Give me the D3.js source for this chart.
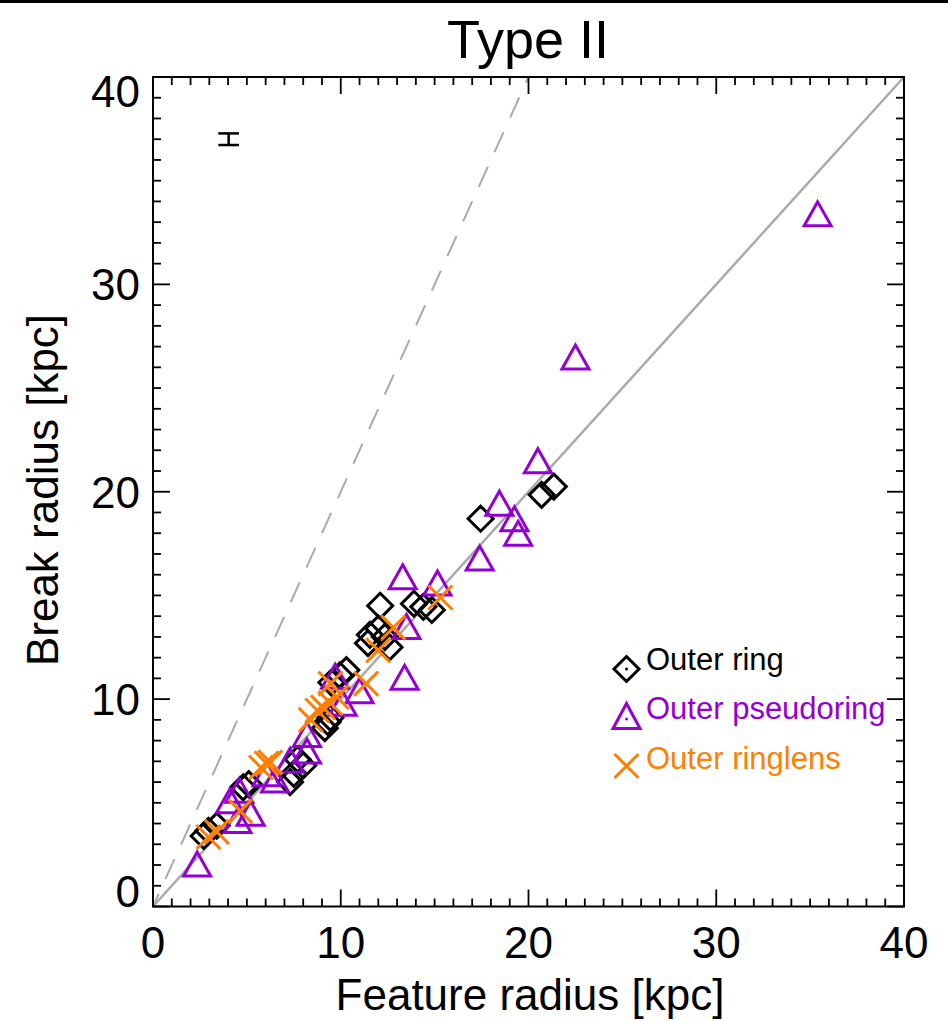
<!DOCTYPE html>
<html>
<head>
<meta charset="utf-8">
<script src="https://cdn.jsdelivr.net/npm/d3@7"></script>
<style>
  body { margin: 0; background: #fff; }
  svg { display: block; font-family: "Liberation Sans", Arial, sans-serif; }
</style>
</head>
<body>
<div id="chart"></div>
<script>
// Outer ring: [feature radius, break radius] (kpc)
const outerRing = [
  [2.7, 3.4], [2.95, 3.65], [3.4, 3.9], [4.8, 5.75], [5.1, 5.9], [7.3, 6.0],
  [7.5, 6.4], [7.7, 7.1], [8.0, 6.8], [9.15, 8.6], [9.3, 8.9], [9.45, 9.1],
  [9.5, 10.8], [9.95, 11.15], [10.3, 11.4], [11.45, 12.7], [11.55, 13.1],
  [12.0, 13.4], [12.35, 13.0], [12.6, 12.5], [12.1, 14.5], [13.9, 14.6],
  [14.4, 14.45], [14.85, 14.3], [17.45, 18.7], [20.7, 19.85], [21.35, 20.25]
]
// Outer pseudoring
const outerPseudoring = [
  [2.35, 2.05], [4.1, 5.1], [4.5, 4.15], [4.6, 5.6], [5.2, 4.5], [6.05, 6.4],
  [6.5, 6.1], [7.3, 7.05], [8.2, 8.3], [8.2, 7.5], [9.7, 11.1], [10.1, 9.8],
  [11.0, 10.4], [13.3, 15.9], [13.4, 11.05], [13.5, 13.5], [15.15, 15.6],
  [17.4, 16.8], [18.45, 19.45], [19.25, 18.7], [19.45, 18.0], [20.5, 21.5],
  [22.5, 26.5], [35.4, 33.4]
]
// Outer ringlens
const outerRinglens = [
  [2.95, 3.35], [3.4, 3.6], [4.65, 4.6], [5.75, 6.7], [6.05, 6.9], [6.25, 6.95],
  [8.4, 9.0], [8.75, 9.45], [9.05, 9.6], [9.45, 9.8], [9.8, 10.1], [9.45, 10.75],
  [11.35, 10.75], [12.0, 12.35], [12.8, 13.45], [15.3, 14.9]
]
const majorTicks = [0, 10, 20, 30, 40]
const minorTicks = d3.range(0, 41)
const errBar = { x: 4.03, y: 37.0, dy: 0.28, cap: 0.55 }
const legendLabels = ['Outer ring', 'Outer pseudoring', 'Outer ringlens']

const W = 948, H = 1021
const purple = '#9400d3', orange = '#ff7f00', grey = '#aaaaaa'

const svg = d3.select('#chart').append('svg')
  .attr('width', W).attr('height', H)

svg.append('rect').attr('x', 0).attr('y', 0).attr('width', W).attr('height', 3).attr('fill', '#000')

const x = d3.scaleLinear().domain([0, 40]).range([153, 904])
const y = d3.scaleLinear().domain([0, 40]).range([906.5, 77])

// reference lines
svg.append('line')
  .attr('x1', x(0)).attr('y1', y(0)).attr('x2', x(40)).attr('y2', y(40))
  .attr('stroke', grey).attr('stroke-width', 2.5)
svg.append('line')
  .attr('x1', x(0)).attr('y1', y(0)).attr('x2', x(20)).attr('y2', y(40))
  .attr('stroke', grey).attr('stroke-width', 2)
  .attr('stroke-dasharray', '22,16').attr('stroke-dashoffset', -30)

// error bar
const eb = svg.append('g').attr('stroke', '#000').attr('stroke-width', 2.5)
eb.append('line').attr('x1', x(errBar.x)).attr('x2', x(errBar.x))
  .attr('y1', y(errBar.y - errBar.dy)).attr('y2', y(errBar.y + errBar.dy))
;[errBar.y - errBar.dy, errBar.y + errBar.dy].forEach(v => {
  eb.append('line').attr('x1', x(errBar.x - errBar.cap)).attr('x2', x(errBar.x + errBar.cap))
    .attr('y1', y(v)).attr('y2', y(v))
})

// marker shapes
const diamond = (r) => `M0,${-r}L${r},0L0,${r}L${-r},0Z`
const triangle = (w, h) => `M0,${-h / 2}L${w / 2},${h / 2}L${-w / 2},${h / 2}Z`
const cross = (r) => `M${-r},${-r}L${r},${r}M${-r},${r}L${r},${-r}`

svg.append('g').selectAll('path').data(outerRing).enter().append('path')
  .attr('transform', d => `translate(${x(d[0])},${y(d[1])})`)
  .attr('d', diamond(12.5)).attr('fill', 'none')
  .attr('stroke', '#000').attr('stroke-width', 3)

svg.append('g').selectAll('path').data(outerPseudoring).enter().append('path')
  .attr('transform', d => `translate(${x(d[0])},${y(d[1])})`)
  .attr('d', triangle(27, 24)).attr('fill', 'none')
  .attr('stroke', purple).attr('stroke-width', 3).attr('stroke-linejoin', 'miter')

svg.append('g').selectAll('path').data(outerRinglens).enter().append('path')
  .attr('transform', d => `translate(${x(d[0])},${y(d[1])})`)
  .attr('d', cross(12)).attr('fill', 'none')
  .attr('stroke', orange).attr('stroke-width', 3)

// frame + ticks (inward, all four sides)
const frame = svg.append('g').attr('stroke', '#000')
frame.append('rect').attr('x', x(0)).attr('y', y(40))
  .attr('width', x(40) - x(0)).attr('height', y(0) - y(40))
  .attr('fill', 'none').attr('stroke-width', 2)

minorTicks.forEach(t => {
  const len = t % 10 === 0 ? 17 : 8
  frame.append('line').attr('x1', x(t)).attr('x2', x(t)).attr('y1', y(0)).attr('y2', y(0) - len).attr('stroke-width', 1.8)
  frame.append('line').attr('x1', x(t)).attr('x2', x(t)).attr('y1', y(40)).attr('y2', y(40) + len).attr('stroke-width', 1.8)
  frame.append('line').attr('y1', y(t)).attr('y2', y(t)).attr('x1', x(0)).attr('x2', x(0) + len).attr('stroke-width', 1.8)
  frame.append('line').attr('y1', y(t)).attr('y2', y(t)).attr('x1', x(40)).attr('x2', x(40) - len).attr('stroke-width', 1.8)
})

// tick labels
svg.append('g').selectAll('text').data(majorTicks).enter().append('text')
  .attr('x', d => x(d)).attr('y', 958)
  .attr('text-anchor', 'middle').attr('font-size', 44).text(d => d)

svg.append('g').selectAll('text').data(majorTicks).enter().append('text')
  .attr('x', 140)
  .attr('y', d => y(d) + (d === 40 ? 30 : d === 0 ? 0 : 16))
  .attr('text-anchor', 'end').attr('font-size', 44).text(d => d)

// titles
svg.append('text').attr('x', 528).attr('y', 58).attr('text-anchor', 'middle')
  .attr('font-size', 54).text('Type II')
svg.append('text').attr('x', 530).attr('y', 1010).attr('text-anchor', 'middle')
  .attr('font-size', 44).text('Feature radius [kpc]')
svg.append('text').attr('transform', 'translate(58,490) rotate(-90)')
  .attr('text-anchor', 'middle').attr('font-size', 44).text('Break radius [kpc]')

// legend
const lg = svg.append('g')
const lx = 626.5, rows = [669, 716, 766]
lg.append('path').attr('transform', `translate(${lx},${rows[0]})`).attr('d', diamond(12.5))
  .attr('fill', 'none').attr('stroke', '#000').attr('stroke-width', 3)
lg.append('circle').attr('cx', lx).attr('cy', rows[0]).attr('r', 1.5).attr('fill', '#000')
lg.append('path').attr('transform', `translate(${lx},${rows[1]})`).attr('d', triangle(27, 25))
  .attr('fill', 'none').attr('stroke', purple).attr('stroke-width', 3)
lg.append('circle').attr('cx', lx).attr('cy', rows[1] + 3).attr('r', 1.5).attr('fill', purple)
lg.append('path').attr('transform', `translate(${lx},${rows[2]})`).attr('d', cross(12))
  .attr('fill', 'none').attr('stroke', orange).attr('stroke-width', 3)
const lcol = ['#000', purple, orange]
legendLabels.forEach((s, i) => {
  lg.append('text').attr('x', 646).attr('y', rows[i] + 1 + (i === 0 ? 0 : 2))
    .attr('font-size', 31).attr('fill', lcol[i]).text(s)
})
</script>
</body>
</html>
